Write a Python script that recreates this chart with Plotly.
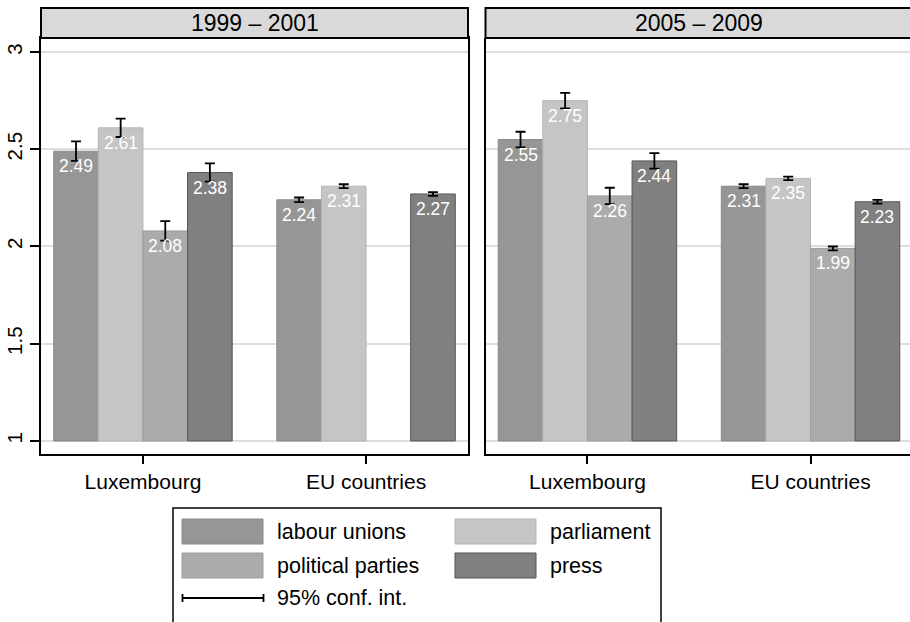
import plotly.graph_objects as go

# ---- data -------------------------------------------------------------
categories = ["Luxembourg", "EU countries"]
series_names = ["labour unions", "parliament", "political parties", "press"]
periods = ["1999 \u2013 2001", "2005 \u2013 2009"]

# mean confidence (1999-2001), per institution: [Luxembourg, EU countries]
labour_unions_9901 = [2.49, 2.24]
parliament_9901 = [2.61, 2.31]
political_parties_9901 = [2.08, None]
press_9901 = [2.38, 2.27]

# half-widths of the 95% confidence intervals (1999-2001)
labour_unions_ci_9901 = [0.050, 0.012]
parliament_ci_9901 = [0.047, 0.010]
political_parties_ci_9901 = [0.050, None]
press_ci_9901 = [0.047, 0.010]

# mean confidence (2005-2009)
labour_unions_0509 = [2.55, 2.31]
parliament_0509 = [2.75, 2.35]
political_parties_0509 = [2.26, 1.99]
press_0509 = [2.44, 2.23]

# half-widths of the 95% confidence intervals (2005-2009)
labour_unions_ci_0509 = [0.040, 0.010]
parliament_ci_0509 = [0.040, 0.009]
political_parties_ci_0509 = [0.042, 0.010]
press_ci_0509 = [0.040, 0.010]

y_ticks = [1, 1.5, 2, 2.5, 3]
y_tick_labels = ["1", "1.5", "2", "2.5", "3"]

# ---- styling ----------------------------------------------------------
fills = ["#969696", "#c4c5c4", "#ababab", "#808080"]
edges = ["#8a8a8a", "#b4b5b4", "#9c9c9c", "#555555"]
FONT = "Liberation Sans, Arial, Helvetica, sans-serif"
W, H = 910, 622
BASE = 1.0  # bars rise from the bottom of the scale


def px(x):
    return x / W


def py(y):
    return 1 - y / H


panels = [
    ([labour_unions_9901, parliament_9901, political_parties_9901, press_9901],
     [labour_unions_ci_9901, parliament_ci_9901, political_parties_ci_9901, press_ci_9901]),
    ([labour_unions_0509, parliament_0509, political_parties_0509, press_0509],
     [labour_unions_ci_0509, parliament_ci_0509, political_parties_ci_0509, press_ci_0509]),
]

fig = go.Figure()
annotations = []
shapes = []

bargap = 0.2
n_series = len(series_names)
slot = (1 - bargap) / n_series
x_pos = list(range(len(categories)))

for p, (means, cis) in enumerate(panels):
    xref = "x" if p == 0 else "x2"
    yref = "y" if p == 0 else "y2"
    for s, name in enumerate(series_names):
        vals = means[s]
        errs = cis[s]
        fig.add_trace(go.Bar(
            x=x_pos,
            y=[None if v is None else v - BASE for v in vals],
            base=BASE,
            name=name,
            showlegend=False,
            marker=dict(color=fills[s], line=dict(color=edges[s], width=1)),
            error_y=dict(type="data", array=[0 if e is None else e for e in errs],
                         visible=True, color="black", thickness=1.8, width=5),
            xaxis=xref, yaxis=yref,
        ))
        offset = (s - (n_series - 1) / 2) * slot
        for c, v in enumerate(vals):
            if v is None:
                continue
            annotations.append(dict(
                x=x_pos[c] + offset, y=v, xref=xref, yref=yref,
                text=f"{v:.2f}", showarrow=False, yanchor="middle", yshift=-15,
                font=dict(color="white", size=17.5, family=FONT),
            ))

# ---- axes -------------------------------------------------------------
y_dom = [py(454), py(38)]
y_range = [0.933, 3.072]
left_dom = [px(41), px(468)]
right_dom = [px(485.5), 1.0]
unit_px = (468 - 41) / 1.914

xcommon = dict(
    tickvals=x_pos, ticktext=categories, ticks="outside", ticklen=8,
    tickwidth=1.5, tickcolor="black", showline=True, linecolor="black",
    linewidth=2, showgrid=False, zeroline=False,
    tickfont=dict(size=21, family=FONT, color="black"),
)
ycommon = dict(
    range=y_range, domain=y_dom, tickvals=y_ticks, showgrid=True,
    gridcolor="#dedede", gridwidth=2, zeroline=False, showline=True,
    linecolor="black", linewidth=2,
)

fig.update_layout(
    xaxis=dict(domain=left_dom, range=[-0.457, 1.457], mirror=True, **xcommon),
    xaxis2=dict(domain=right_dom, range=[-0.457, -0.457 + (W - 485.5) / unit_px],
                anchor="y2", **xcommon),
    yaxis=dict(ticktext=y_tick_labels, ticks="outside", ticklen=9, tickwidth=1.5,
               tickcolor="black", tickangle=-90, mirror=True,
               tickfont=dict(size=20.5, family=FONT, color="black"), **ycommon),
    yaxis2=dict(anchor="x2", showticklabels=False, ticks="", **ycommon),
    barmode="group",
    bargap=bargap,
    bargroupgap=0,
    width=W, height=H,
    margin=dict(l=0, r=0, t=0, b=0),
    paper_bgcolor="white",
    plot_bgcolor="white",
    showlegend=False,
)

# ---- panel header strips ---------------------------------------------
for (x0, x1), title in zip([(41, 468), (485.5, 930)], periods):
    shapes.append(dict(type="rect", xref="paper", yref="paper",
                       x0=px(x0), x1=px(x1), y0=py(38), y1=py(8),
                       fillcolor="#d9d9d9", line=dict(color="black", width=2)))
    annotations.append(dict(x=px((x0 + min(x1, 913)) / 2), y=py(23),
                            xref="paper", yref="paper", text=title,
                            showarrow=False, xanchor="center", yanchor="middle",
                            font=dict(size=23, family=FONT, color="black")))

# ---- legend box -------------------------------------------------------
shapes.append(dict(type="rect", xref="paper", yref="paper",
                   x0=px(173), x1=px(661), y0=py(640), y1=py(508),
                   fillcolor="white", line=dict(color="black", width=1.5)))

legend_slots = [(182, 519), (455, 519), (182, 553), (455, 553)]
for s, name in enumerate(series_names):
    lx, ly = legend_slots[s]
    shapes.append(dict(type="rect", xref="paper", yref="paper",
                       x0=px(lx), x1=px(lx + 81), y0=py(ly + 25), y1=py(ly),
                       fillcolor=fills[s], line=dict(color=edges[s], width=1)))
    annotations.append(dict(x=px(lx + 93), y=py(ly + 12.5), xref="paper", yref="paper",
                            text=name, showarrow=False, xanchor="left", yanchor="middle",
                            font=dict(size=21.5, family=FONT, color="black")))

# confidence-interval key
ci_y = 598
shapes.append(dict(type="line", xref="paper", yref="paper",
                   x0=px(182), x1=px(264), y0=py(ci_y), y1=py(ci_y),
                   line=dict(color="black", width=1.8)))
for cx in (182.5, 263.5):
    shapes.append(dict(type="line", xref="paper", yref="paper",
                       x0=px(cx), x1=px(cx), y0=py(ci_y - 4), y1=py(ci_y + 4),
                       line=dict(color="black", width=1.8)))
annotations.append(dict(x=px(275), y=py(ci_y), xref="paper", yref="paper",
                        text="95% conf. int.", showarrow=False, xanchor="left",
                        yanchor="middle", font=dict(size=21.5, family=FONT, color="black")))

fig.update_layout(shapes=shapes, annotations=annotations)

fig.write_html("out.html")
